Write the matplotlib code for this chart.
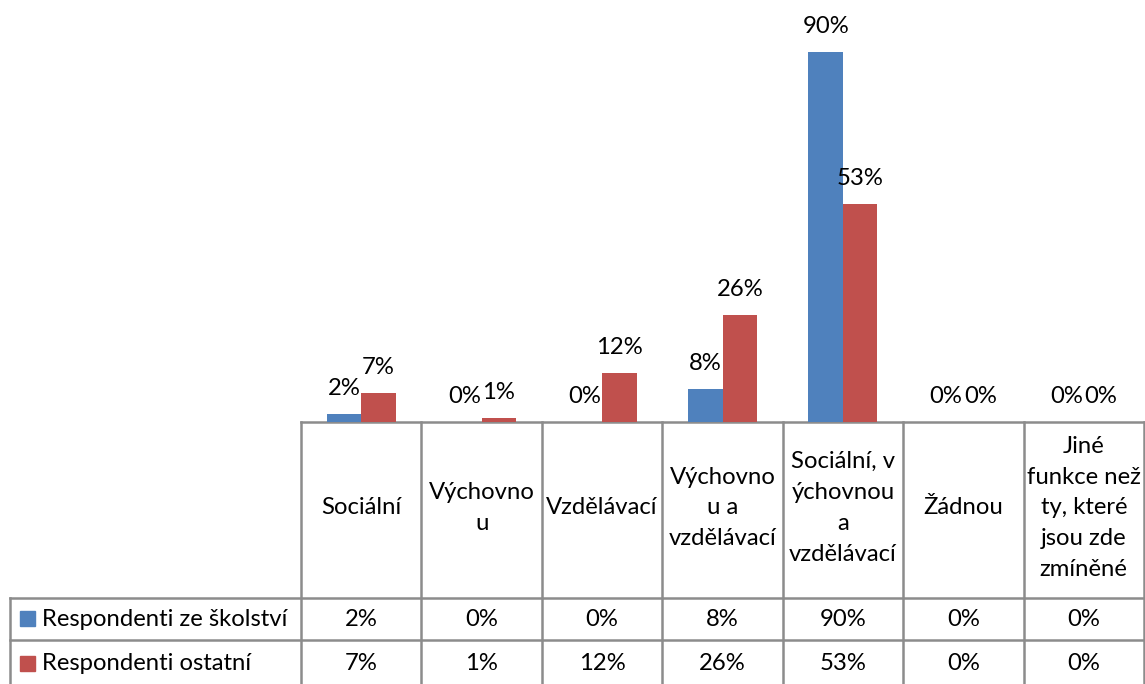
import matplotlib.pyplot as plt

categories = ["Sociální", "Výchovno\nu", "Vzdělávací", "Výchovno\nu a\nvzdělávací",
              "Sociální, v\nýchovnou\na\nvzdělávací", "Žádnou",
              "Jiné\nfunkce než\nty, které\njsou zde\nzmíněné"]
series_names = ["Respondenti ze školství", "Respondenti ostatní"]
skolstvi = [2, 0, 0, 8, 90, 0, 0]
ostatni = [7, 1, 12, 26, 53, 0, 0]

colors = ["#4F81BD", "#C0504D"]
grid_col = "#8C8C8C"
plt.rcParams['font.family'] = ['Lato', 'DejaVu Sans']
FS = 17.2

W, H = 1145, 684
fig = plt.figure(figsize=(W / 100, H / 100), dpi=100)

# pixel layout of the plot area (x) and baseline / top (y)
px_left, px_right = 301, 1144
py_base, py_top = 422, 11
ax = fig.add_axes([px_left / W, (H - py_base) / H, (px_right - px_left) / W, (py_base - py_top) / H])

n = len(categories)
w = 0.287
x = list(range(n))
for k, vals in enumerate([skolstvi, ostatni]):
    pos = [i + (k - 0.5) * w for i in x]
    ax.bar(pos, [v / 100 for v in vals], width=w, color=colors[k], edgecolor="none")
    for p, v in zip(pos, vals):
        ax.annotate(f"{v}%", (p, v / 100), xytext=(0, 13.7), textcoords="offset points",
                    ha="center", va="baseline", fontsize=FS)

ax.set_xlim(-0.5, n - 0.5)
ax.set_ylim(0, 1)
ax.axis("off")

# data table underneath, in pixel coordinates
tb = fig.add_axes([0, 0, 1, 1], zorder=-1)
tb.set_xlim(0, W)
tb.set_ylim(H, 0)
tb.axis("off")

col_w = (px_right - px_left) / n
edges = [px_left + i * col_w for i in range(n + 1)]
row1, row2, bottom = 598, 640, H
lw = 1.8
tb.plot([px_left, px_right], [py_base, py_base], color=grid_col, lw=lw)
for e in edges:
    tb.plot([e, e], [py_base, bottom], color=grid_col, lw=lw)
tb.plot([10, 10], [row1, bottom], color=grid_col, lw=lw)
tb.plot([10, px_right], [row1, row1], color=grid_col, lw=lw)
tb.plot([10, px_right], [row2, row2], color=grid_col, lw=lw)

for i, c in enumerate(categories):
    tb.text(edges[i] + col_w / 2, (py_base + row1) / 2 - 2, c, ha="center", va="center",
            fontsize=FS, linespacing=1.58)

for r, (yc, vals) in enumerate([((row1 + row2) / 2, skolstvi), ((row2 + bottom) / 2 + 2, ostatni)]):
    tb.add_patch(plt.Rectangle((20, yc - 8), 15, 15, color=colors[r]))
    tb.text(42, yc, series_names[r], ha="left", va="center", fontsize=FS)
    for i, v in enumerate(vals):
        tb.text(edges[i] + col_w / 2, yc, f"{v}%", ha="center", va="center", fontsize=FS)

fig.savefig("out.png", dpi=100)
